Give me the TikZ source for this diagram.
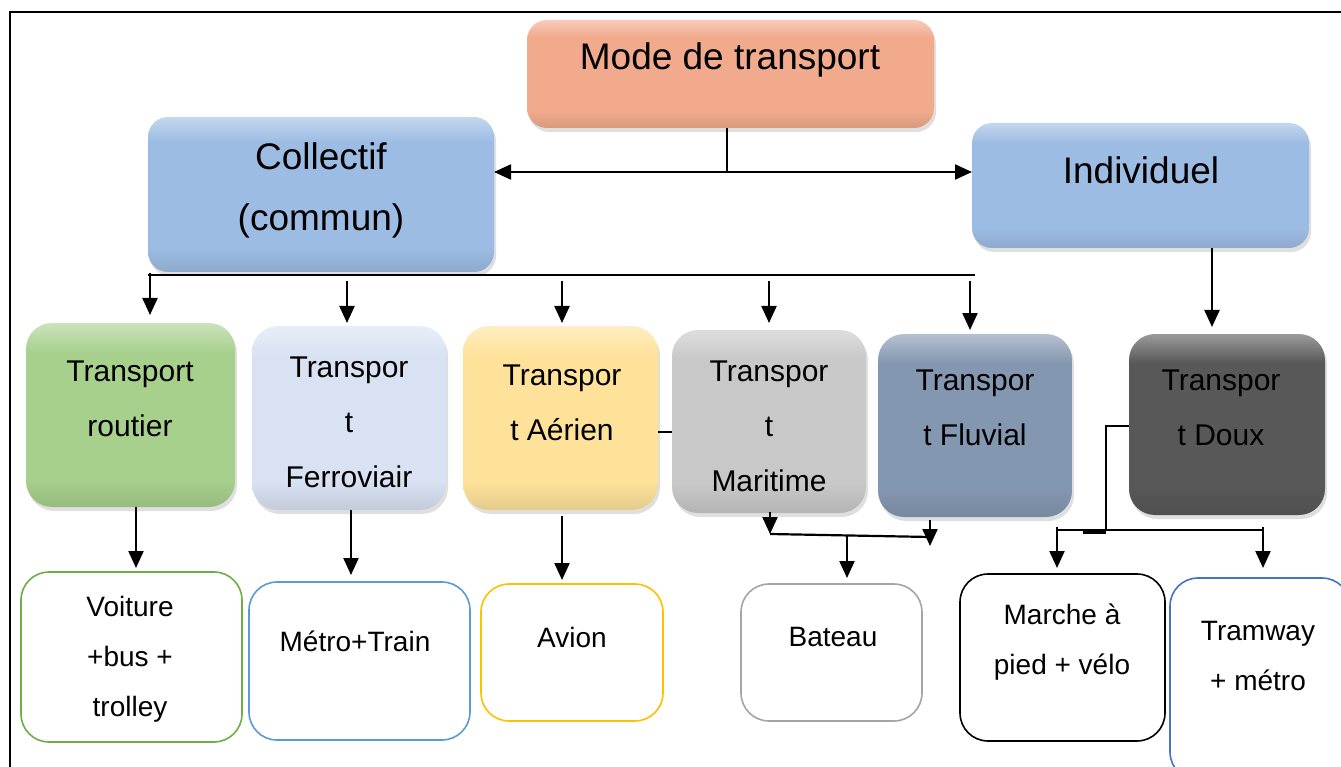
\documentclass[tikz,border=0pt]{standalone}
\usepackage{fontspec}
\setmainfont{Liberation Sans}
\usetikzlibrary{arrows.meta,shadows}

\definecolor{salmon}{HTML}{F1AA8C}
\definecolor{skyblue}{HTML}{9DBCE3}
\definecolor{leaf}{HTML}{A8D08D}
\definecolor{pale}{HTML}{D9E2F3}
\definecolor{straw}{HTML}{FEE29A}
\definecolor{silver}{HTML}{C8C8C8}
\definecolor{slate}{HTML}{8497B0}
\definecolor{charcoal}{HTML}{585858}
\definecolor{lgreen}{HTML}{70AD47}
\definecolor{lblue}{HTML}{5B9BD5}
\definecolor{lgold}{HTML}{FFC000}
\definecolor{lgrey}{HTML}{A5A5A5}
\definecolor{lroyal}{HTML}{4472C4}
\colorlet{boxbody}{gray}

% body colour with a light top edge and a slightly darker foot
\pgfdeclareverticalshading[boxbody]{glossshade}{100bp}{%
  color(0bp)=(boxbody!90!black); color(25bp)=(boxbody!90!black);
  color(33bp)=(boxbody); color(67bp)=(boxbody);
  color(75bp)=(boxbody!60!white); color(100bp)=(boxbody!60!white)}

\begin{document}
\begin{tikzpicture}[x=1pt,y=-1pt,
  every node/.style={inner sep=0pt,outer sep=0pt},
  conn/.style={line width=2.2pt,draw=black},
  arr/.style={conn,-{Triangle[length=17pt,width=15pt]}},
  dbl/.style={conn,{Triangle[length=17pt,width=15pt]}-{Triangle[length=17pt,width=15pt]}},
  glossy/.style={rectangle,/utils/exec={\colorlet{boxbody}{#1}},
    shade,shading=glossshade,
    drop shadow={opacity=0.25,shadow xshift=2pt,shadow yshift=-4pt}},
  topbox/.style={glossy=#1,rounded corners=20pt},
  midbox/.style={glossy=#1,rounded corners=26pt},
  leafbox/.style={rectangle,rounded corners=28pt,fill=white,draw=#1,line width=1.6pt},
  toptxt/.style={align=center,font=\fontsize{37}{61}\selectfont},
  midtxt/.style={align=center,font=\fontsize{30}{55}\selectfont},
  leaftxt/.style={align=center,font=\fontsize{28}{50}\selectfont},
]
\clip (0,0) rectangle (1341,767);

% outer frame
\draw[line width=2.2pt] (10,790) -- (10,12) -- (1360,12);

% top level
\node[topbox=salmon,minimum width=407pt,minimum height=108pt] (mode) at (730.5,74) {};
\node[toptxt] (modeT) at (730,60) {Mode de transport};

\node[topbox=skyblue,minimum width=346pt,minimum height=155pt] (collectif) at (321,194.5) {};
\node[toptxt] (collectifT) at (321,190) {Collectif\\(commun)};

\node[topbox=skyblue,minimum width=337pt,minimum height=125pt] (indiv) at (1140.5,185.5) {};
\node[toptxt] (indivT) at (1141,170) {Individuel};

% second level
\node[midbox=leaf,minimum width=209pt,minimum height=184pt] (routier) at (130.5,415) {};
\node[midtxt] (routierT) at (130,399) {Transport\\routier};

\node[midbox=pale,minimum width=194pt,minimum height=184pt] (ferro) at (349,418) {};
\node[midtxt] (ferroT) at (349,422) {Transpor\\t\\Ferroviair};

\node[midbox=straw,minimum width=195pt,minimum height=184pt] (aerien) at (560.5,418) {};
\node[midtxt] (aerienT) at (562,403) {Transpor\\t Aérien};

\node[midbox=silver,minimum width=194pt,minimum height=183pt] (maritime) at (769,421.5) {};
\node[midtxt] (maritimeT) at (769,426) {Transpor\\t\\Maritime};

\node[midbox=slate,minimum width=194pt,minimum height=183pt] (fluvial) at (975,425.5) {};
\node[midtxt] (fluvialT) at (975,408) {Transpor\\t Fluvial};

\node[midbox=charcoal,minimum width=196pt,minimum height=181pt] (doux) at (1227,424.5) {};
\node[midtxt] (douxT) at (1221,408) {Transpor\\t Doux};

% third level
\node[leafbox=lgreen,minimum width=221pt,minimum height=170pt] (voiture) at (131.5,657) {};
\node[leaftxt] (voitureT) at (130,659) {Voiture\\+bus +\\trolley};

\node[leafbox=lblue,minimum width=221pt,minimum height=158pt] (metro) at (359.5,661) {};
\node[leaftxt] (metroT) at (355,641) {Métro+Train};

\node[leafbox=lgold,minimum width=182pt,minimum height=137pt] (avion) at (572,652.5) {};
\node[leaftxt] (avionT) at (572,637) {Avion};

\node[leafbox=lgrey,minimum width=181pt,minimum height=137pt] (bateau) at (831.5,652.5) {};
\node[leaftxt] (bateauT) at (833,637) {Bateau};

\node[leafbox=black,minimum width=205pt,minimum height=167pt] (marche) at (1062.5,657.5) {};
\node[leaftxt] (marcheT) at (1062,642) {Marche à\\pied + vélo};

\node[leafbox=lroyal,minimum width=180pt,minimum height=202pt] (tram) at (1260,679) {};
\node[leaftxt] (tramT) at (1258,656) {Tramway\\+ métro};

% mode -> collectif / individuel
\coordinate (hub) at (727,172);
\draw[conn] (mode.south -| hub) -- (hub);
\draw[dbl] (hub -| collectif.east) -- (hub -| indiv.west);

% collectif distribution bar
\coordinate (busL) at (148,275);
\coordinate (busR) at (975,275);
\draw[conn] (busL) -- (busR);
\coordinate (tap1) at (150,273);
\coordinate (tap2) at (347,281);
\coordinate (tap3) at (562,281);
\coordinate (tap4) at (769,281);
\coordinate (tap5) at (970,281);
\draw[arr,shorten >=8pt] (tap1) -- (tap1 |- routier.north);
\draw[arr,shorten >=3pt] (tap2) -- (tap2 |- ferro.north);
\draw[arr,shorten >=3pt] (tap3) -- (tap3 |- aerien.north);
\draw[arr,shorten >=7pt] (tap4) -- (tap4 |- maritime.north);
\draw[arr,shorten >=4pt] (tap5) -- (tap5 |- fluvial.north);

% individuel -> doux
\coordinate (indivTap) at (1212,248);
\draw[arr,shorten >=7pt] (indivTap) -- (indivTap |- doux.north);

% small stub between aerien and maritime
\draw[conn] ([yshift=-14pt]aerien.east) -- ([yshift=-14pt]aerien.east -| maritime.west);

% second level -> leaves
\coordinate (rtap) at (136,507);
\coordinate (ftap) at (351,510);
\coordinate (atap) at (562,516);
\draw[arr,shorten >=4pt] (rtap) -- (rtap |- voiture.north);
\draw[arr,shorten >=7pt] (ftap) -- (ftap |- metro.north);
\draw[arr,shorten >=4pt] (atap) -- (atap |- avion.north);

% maritime + fluvial -> bateau
\coordinate (mtap) at (770,512);
\coordinate (mjoin) at (770,534);
\coordinate (fjoin) at (930,537);
\coordinate (ftop) at (930,520);
\coordinate (fend) at (930,546);
\coordinate (btap) at (847,536);
\draw[arr] (mtap) -- (mjoin);
\draw[conn] (mjoin) -- (fjoin);
\draw[arr] (ftop) -- (fend);
\draw[arr,shorten >=6pt] (btap) -- (btap |- bateau.north);

% doux -> marche / tramway
\coordinate (dk1) at (1106,426);
\coordinate (dk2) at (1106,531);
\coordinate (dk3) at (1083,532.5);
\coordinate (dl) at (1057,530);
\coordinate (dr) at (1263,530);
\draw[conn] (doux.west |- dk1) -- (dk1) -- (dk2);
\draw[conn] (dl) -- (dr);
\draw[conn] (dk3) -- (dk3 -| dk2);
\coordinate (dlt) at (1057,527);
\coordinate (drt) at (1263,527);
\draw[arr,shorten >=6pt] (dlt) -- (dlt |- marche.north);
\draw[arr,shorten >=10pt] (drt) -- (drt |- tram.north);
\end{tikzpicture}
\end{document}
